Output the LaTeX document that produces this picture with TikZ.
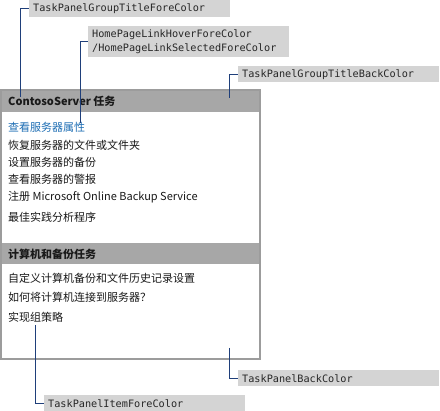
\documentclass[tikz,border=0pt]{standalone}
\usepackage{fontspec}
\usepackage{tikz}
\usetikzlibrary{positioning}
\newfontfamily\cjk{Noto Sans CJK SC}
\newfontfamily\mono{DejaVu Sans Mono}
\definecolor{lblgray}{HTML}{D4D4D4}
\definecolor{bargray}{HTML}{A7A7A7}
\definecolor{edgegray}{HTML}{9C9C9C}
\definecolor{linkblue}{HTML}{1E6EB4}
\definecolor{connblue}{HTML}{1F3F7A}
\tikzset{
  lbl/.style={fill=lblgray, anchor=north west, minimum height=16pt,
    text width=193pt, inner xsep=4pt, inner ysep=1pt, align=left,
    font=\mono\fontsize{10.2}{14}\selectfont, text=black!85},
  item/.style={anchor=west, inner sep=0pt, font=\cjk\fontsize{11}{13}\selectfont, text=black!90},
  grouptitle/.style={item, font=\cjk\bfseries\fontsize{11}{13}\selectfont},
  conn/.style={draw=connblue, line width=0.9pt}
}
\begin{document}
\begin{tikzpicture}[x=1pt, y=-1pt]
  \useasboundingbox (0,0) rectangle (440,411);
  % panel
  \fill[white] (1,90) rectangle (260,359);
  \fill[bargray] (1,90) rectangle (260,112);
  \fill[bargray] (1,243) rectangle (260,264);
  \draw[edgegray, line width=1.6pt] (1,90) rectangle (260,359);

  \node[grouptitle] (t1) at (8,101) {ContosoServer 任务};
  \node[item, text=linkblue] (i1) at (8,127) {查看服务器属性};
  \node[item] (i2) at (8,145) {恢复服务器的文件或文件夹};
  \node[item] (i3) at (8,162) {设置服务器的备份};
  \node[item] (i4) at (8,179) {查看服务器的警报};
  \node[item] (i5) at (8,197) {注册 Microsoft Online Backup Service};
  \node[item] (i6) at (8,217) {最佳实践分析程序};

  \node[grouptitle] (t2) at (8,254) {计算机和备份任务};
  \node[item] (j1) at (8,278) {自定义计算机备份和文件历史记录设置};
  \node[item] (j2) at (8,297) {如何将计算机连接到服务器？};
  \node[item] (j3) at (8,317) {实现组策略};

  % labels
  \node[lbl, minimum height=17pt] (gtfc) at (29,0) {TaskPanelGroupTitleForeColor};
  \node[lbl, minimum height=31pt] (hplc) at (88,26) {HomePageLinkHoverForeColor\\/HomePageLinkSelectedForeColor};
  \node[lbl] (gtbc) at (238,66) {TaskPanelGroupTitleBackColor};
  \node[lbl] (tpbc) at (238,370) {TaskPanelBackColor};
  \node[lbl] (tifc) at (44,395) {TaskPanelItemForeColor};

  \coordinate (a1) at (20,97);
  \coordinate (a2) at (80,123);
  \coordinate (a3) at (229,98);
  \coordinate (a4) at (229,348);
  \coordinate (a5) at (35,325);

  \draw[conn] (a1) |- (gtfc.west);
  \draw[conn] (a2) |- (hplc.west);
  \draw[conn] (a3) |- (gtbc.west);
  \draw[conn] (a4) |- (tpbc.west);
  \draw[conn] (a5) |- (tifc.west);
\end{tikzpicture}
\end{document}
